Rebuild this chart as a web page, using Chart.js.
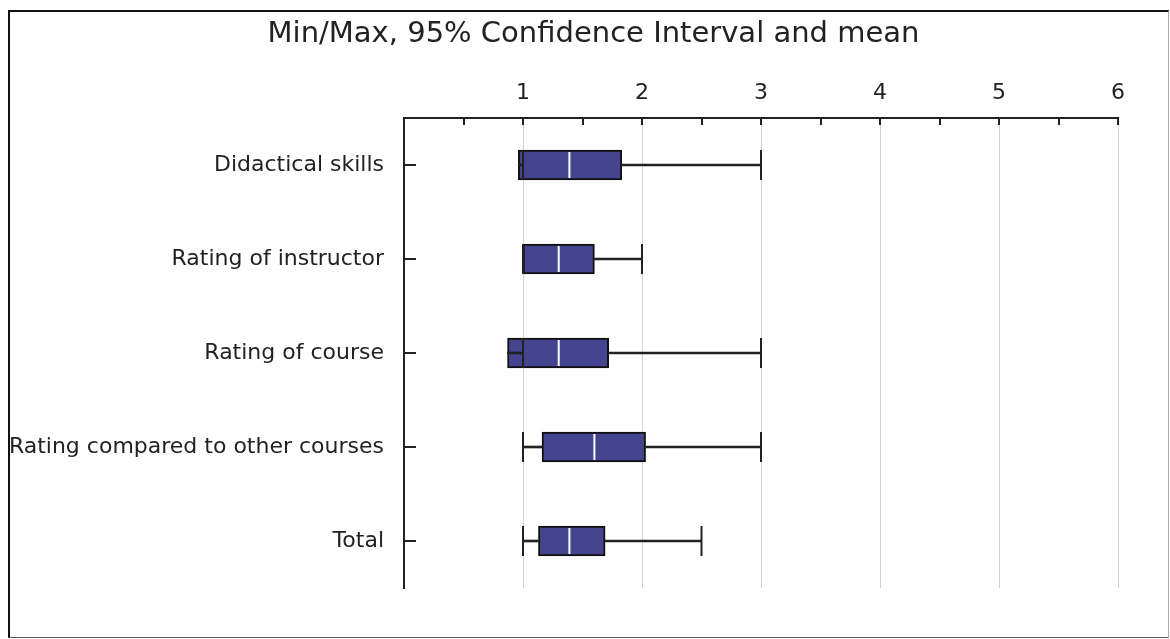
<!DOCTYPE html>
<html>
<head>
<meta charset="utf-8">
<script src="https://cdn.jsdelivr.net/npm/chart.js@4/dist/chart.umd.min.js"></script>
<style>
  html, body { margin: 0; padding: 0; background: #fff; }
  #frame {
    position: absolute; left: 8px; top: 10px;
    width: 1158px; height: 625px;
    border-top: 2px solid #111; border-left: 2px solid #111;
    border-right: 1px solid #aaa; border-bottom: 1px solid #555;
    overflow: hidden;
  }
</style>
</head>
<body>
<div id="frame"><canvas id="ciChart" width="1158" height="625"></canvas></div>
<script>
// Min/Max, 95% CI and mean per item
const categories = ['Didactical skills', 'Rating of instructor', 'Rating of course', 'Rating compared to other courses', 'Total'];
const minValues  = [1, 1, 1, 1, 1];
const maxValues  = [3, 2, 3, 3, 2.5];
const ciLower    = [0.96, 1.0, 0.87, 1.16, 1.13];
const ciUpper    = [1.83, 1.60, 1.72, 2.03, 1.69];
const meanValues = [1.39, 1.30, 1.30, 1.60, 1.39];
const xTicks     = [1, 2, 3, 4, 5, 6];

const axisColor = '#222';
const labelFont = { family: 'DejaVu Sans', size: 22 };

// tick marks drawn inside the plot, like the original
const innerTicks = {
  id: 'innerTicks',
  afterLayout(chart) {
    // title is centred a bit right of the canvas centre in the original
    chart.titleBlock.left = 59;
  },
  afterDraw(chart) {
    const ctx = chart.ctx;
    const xs = chart.scales.x, ys = chart.scales.y;
    const area = chart.chartArea;
    ctx.save();
    ctx.strokeStyle = axisColor;
    ctx.lineWidth = 2;
    ctx.beginPath();
    for (let v = 0.5; v <= xs.max; v += 0.5) {
      const px = Math.round(xs.getPixelForValue(v));
      ctx.moveTo(px, area.top);
      ctx.lineTo(px, area.top + 7);
    }
    categories.forEach((c, i) => {
      const py = Math.round(ys.getPixelForValue(i));
      ctx.moveTo(area.left, py);
      ctx.lineTo(area.left + 12, py);
    });
    ctx.stroke();
    ctx.restore();
  }
};

const ctx = document.getElementById('ciChart').getContext('2d');
const chart = new Chart(ctx, {
  type: 'bar',
  data: {
    labels: categories,
    datasets: [
      {
        label: 'Min',
        type: 'scatter',
        data: categories.map((c, i) => ({ x: minValues[i], y: c })),
        pointStyle: 'line', pointRotation: 90, pointRadius: 15,
        pointBorderColor: axisColor, pointBorderWidth: 2,
        order: 1
      },
      {
        label: 'Max',
        type: 'scatter',
        data: categories.map((c, i) => ({ x: maxValues[i], y: c })),
        pointStyle: 'line', pointRotation: 90, pointRadius: 15,
        pointBorderColor: axisColor, pointBorderWidth: 2,
        order: 1
      },
      {
        label: 'Mean',
        type: 'scatter',
        data: categories.map((c, i) => ({ x: meanValues[i], y: c })),
        pointStyle: 'line', pointRotation: 90, pointRadius: 13,
        pointBorderColor: '#ffffff', pointBorderWidth: 2,
        order: 2
      },
      {
        label: 'Lower whisker',
        data: categories.map((c, i) => [minValues[i], ciLower[i]]),
        backgroundColor: axisColor,
        barThickness: 2, grouped: false,
        order: 3
      },
      {
        label: 'Upper whisker',
        data: categories.map((c, i) => [ciUpper[i], maxValues[i]]),
        backgroundColor: axisColor,
        barThickness: 2, grouped: false,
        order: 3
      },
      {
        label: '95% CI',
        data: categories.map((c, i) => [ciLower[i], ciUpper[i]]),
        backgroundColor: '#45458f',
        borderColor: '#111',
        borderWidth: 2,
        borderSkipped: false,
        barThickness: 30, grouped: false,
        order: 4
      }
    ]
  },
  options: {
    indexAxis: 'y',
    responsive: false,
    animation: false,
    events: [],
    layout: { padding: { left: 0, right: 50, top: 0, bottom: 49 } },
    plugins: {
      legend: { display: false },
      tooltip: { enabled: false },
      title: {
        display: true,
        text: 'Min/Max, 95% Confidence Interval and mean',
        color: '#222',
        font: { family: 'DejaVu Sans', size: 29, weight: 'normal' },
        padding: { top: 5, bottom: 0 }
      }
    },
    scales: {
      x: {
        type: 'linear',
        position: 'top',
        min: 0,
        max: 6,
        afterBuildTicks: (scale) => { scale.ticks = xTicks.map(v => ({ value: v })); },
        afterFit: (scale) => { scale.height = 66.2; },
        ticks: { color: '#222', font: labelFont, padding: 12, maxRotation: 0 },
        grid: {
          drawTicks: false,
          color: '#d4d4d4',
          lineWidth: 1
        },
        border: { display: true, color: axisColor, width: 2 }
      },
      y: {
        type: 'category',
        offset: true,
        afterFit: (scale) => { scale.width = 394; },
        ticks: { color: '#222', font: labelFont, padding: 20 },
        grid: { display: false, drawTicks: false },
        border: { display: true, color: axisColor, width: 2 }
      }
    }
  },
  plugins: [innerTicks]
});
</script>
</body>
</html>
